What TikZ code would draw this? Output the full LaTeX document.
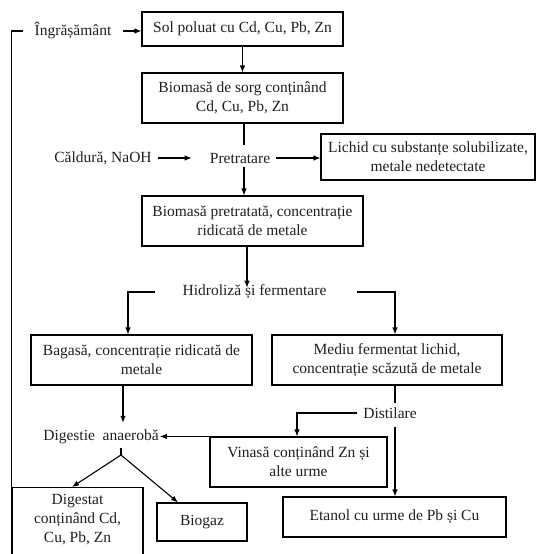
\documentclass[tikz,border=0pt]{standalone}
\usepackage{fontspec}
\setmainfont{Liberation Serif}
\usetikzlibrary{arrows.meta}
\begin{document}
\begin{tikzpicture}[x=1pt,y=-1pt,
  every node/.style={font=\fontsize{15.5}{19}\selectfont, text=black!88, inner sep=1pt},
  box/.style={draw, line width=1.1pt, align=center, inner sep=0pt},
  lbl/.style={align=center},
  arr/.style={-{Latex[length=7pt,width=5.5pt]}, line width=1.1pt},
  ln/.style={line width=1.1pt}]
\useasboundingbox (0,0) rectangle (538,554);
% boxes and labels
\node[box, minimum width=201pt, minimum height=34pt] (b1) at (242.5,29) {Sol poluat cu Cd, Cu, Pb, Zn};
\node[box, minimum width=201pt, minimum height=50pt] (b2) at (242.5,98) {Biomasă de sorg conținând\\Cd, Cu, Pb, Zn};
\node[lbl] (ingr) at (73,31) {Îngrășământ};
\node[lbl] (cald) at (103,158) {Căldură, NaOH};
\node[lbl] (pret) at (240,158) {Pretratare};
\node[box, minimum width=214pt, minimum height=46pt] (lich) at (428,157) {Lichid cu substanțe solubilizate,\\metale nedetectate};
\node[box, minimum width=221pt, minimum height=50pt] (b3) at (252.5,221) {Biomasă pretratată, concentrație\\ridicată de metale};
\node[lbl] (hidro) at (254.5,292) {Hidroliză și fermentare};
\node[box, minimum width=221pt, minimum height=50pt] (b4) at (141.5,360) {Bagasă, concentrație ridicată de\\metale};
\node[box, minimum width=230pt, minimum height=50pt] (b5) at (387,360) {Mediu fermentat lichid,\\concentrație scăzută de metale};
\node[lbl] (dig) at (101,437) {Digestie~ anaerobă};
\node[lbl] (dist) at (390,413) {Distilare};
\node[box, minimum width=177pt, minimum height=50pt] (vin) at (298.5,462) {Vinasă conținând Zn și\\alte urme};
\node[box, minimum width=223pt, minimum height=40pt] (et) at (394.5,517) {Etanol cu urme de Pb și Cu};
\node[box, minimum width=131pt, minimum height=80pt, anchor=north] (dgtbox) at (77.5,487) {};
\node[lbl] (dgt) at (77.5,520) {Digestat\\conținând Cd,\\Cu, Pb, Zn};
\node[box, minimum width=90pt, minimum height=38pt] (bio) at (202,522) {Biogaz};
% helper coordinates
\coordinate (fb) at (23,31);
\coordinate (sp) at (244,0);
\coordinate (sp2) at (247,0);
\coordinate (hl) at (128,0);
\coordinate (hr) at (395,0);
\coordinate (dl) at (123,0);
\coordinate (vl) at (297,0);
\coordinate (forktop) at (121,448);
\coordinate (fork) at (121,455);
% connectors
\draw[ln] (dgtbox.north west) |- (fb);
\draw[arr] ([xshift=10pt]ingr.east) -- (ingr.east -| b1.west);
\draw[arr] (b1) -- (b2);
\draw[ln] (b2.south -| sp) -- ([yshift=7pt]pret.north -| sp);
\draw[arr] ([xshift=5pt]cald.east) -- ([xshift=-17pt]pret.west);
\draw[arr] ([xshift=5pt]pret.east) -- (pret.east -| lich.west);
\draw[arr] ([yshift=-3pt]pret.south -| sp) -- (b3.north -| sp);
\draw[arr] (b3.south -| sp2) -- ([yshift=-4pt]hidro.north -| sp2);
\draw[arr] ([xshift=-26pt]hidro.west) -| (b4.north -| hl);
\draw[arr] ([xshift=29pt]hidro.east) -| (b5.north -| hr);
\draw[arr] (b4.south -| dl) -- ([yshift=6pt]dig.north -| dl);
\draw[ln] (b5.south -| hr) -- ([yshift=3pt]dist.north -| hr);
\draw[arr] ([xshift=-5pt]dist.west) -| (vin.north -| vl);
\draw[arr] ([yshift=-7pt]dist.south -| hr) -- (et.north -| hr);
\draw[arr] (vin.north west) -- (dig.east |- vin.north west);
\draw[ln] (forktop) -- (fork);
\draw[arr] (fork) -- ([xshift=-5.5pt]dgtbox.north);
\draw[arr] (fork) -- ([xshift=-24pt]bio.north);
\end{tikzpicture}
\end{document}
